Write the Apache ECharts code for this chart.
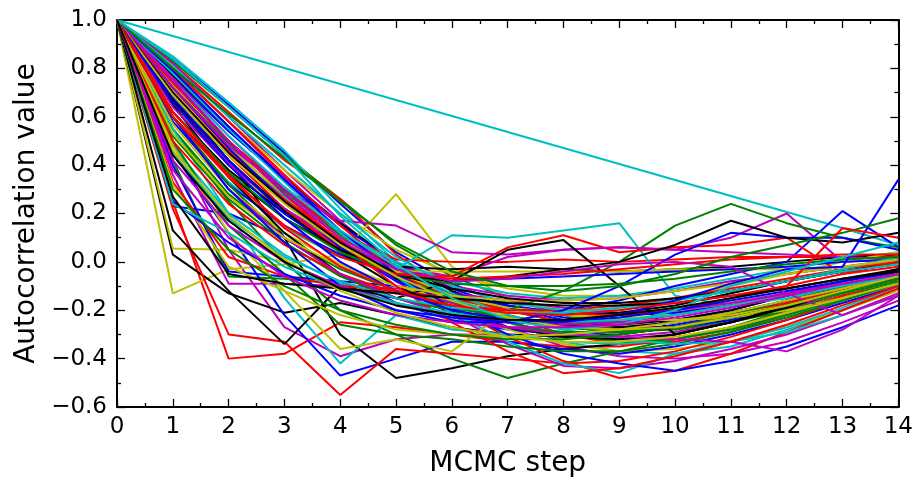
<!DOCTYPE html>
<html>
<head>
<meta charset="utf-8">
<script src="https://cdn.jsdelivr.net/npm/echarts@6/dist/echarts.min.js"></script>
<style>
  html, body { margin: 0; padding: 0; background: #fff; }
  #chart { width: 916px; height: 483px; }
</style>
</head>
<body>
<div id="chart"></div>
<script>
// Lag index of the autocorrelation function
const steps = [0, 1, 2, 3, 4, 5, 6, 7, 8, 9, 10, 11, 12, 13, 14];

// Autocorrelation curves of the MCMC chains, grouped by the line colour they are drawn with
const blueRuns = [
  [1, 0.84, 0.65, 0.45, 0.24, 0.04, -0.09, -0.18, -0.23, -0.25, -0.24, -0.2, -0.14, -0.08, -0.03],
  [1, 0.23, 0.2, 0.1, -0.05, -0.17, -0.24, -0.28, -0.3, -0.29, -0.26, -0.22, -0.17, -0.12, -0.07],
  [1, 0.76, 0.54, 0.34, 0.15, 0.0, -0.11, -0.19, -0.24, -0.27, -0.27, -0.24, -0.19, -0.13, -0.06],
  [1, 0.45, 0.12, -0.22, -0.47, -0.4, -0.33, -0.33, -0.36, -0.38, -0.35, -0.3, -0.24, -0.17, -0.1],
  [1, 0.4, -0.04, -0.06, -0.08, -0.1, -0.14, -0.18, -0.22, -0.24, -0.24, -0.22, -0.18, -0.13, -0.08],
  [1, 0.58, 0.32, 0.15, 0.03, -0.06, -0.13, -0.18, -0.21, -0.22, -0.21, -0.18, -0.14, -0.1, -0.06],
  [1, 0.72, 0.47, 0.25, 0.06, -0.08, -0.16, -0.2, -0.2, -0.16, -0.1, -0.05, 0.0, 0.21, 0.06],
  [1, 0.79, 0.56, 0.34, 0.13, -0.05, -0.19, -0.3, -0.38, -0.42, -0.45, -0.41, -0.35, -0.27, -0.18],
  [1, 0.68, 0.42, 0.2, 0.04, -0.06, -0.08, -0.07, -0.06, -0.05, -0.04, -0.03, -0.02, 0.0, 0.01],
  [1, 0.6, 0.3, 0.08, -0.1, -0.2, -0.25, -0.25, -0.2, -0.1, 0.03, 0.12, 0.1, 0.1, 0.05],
  [1, 0.25, 0.08, -0.05, -0.14, -0.2, -0.23, -0.25, -0.25, -0.23, -0.2, -0.16, -0.12, -0.08, -0.04],
  [1, 0.66, 0.4, 0.18, 0.0, -0.12, -0.2, -0.24, -0.25, -0.22, -0.16, -0.09, -0.03, -0.02, 0.34]
];
const greenRuns = [
  [1, 0.83, 0.64, 0.44, 0.26, 0.07, -0.06, -0.15, -0.22, -0.27, -0.28, -0.25, -0.2, -0.13, -0.06],
  [1, 0.42, -0.06, -0.07, -0.09, -0.12, -0.17, -0.23, -0.27, -0.29, -0.28, -0.24, -0.19, -0.13, -0.07],
  [1, 0.74, 0.5, 0.3, 0.12, -0.03, -0.14, -0.22, -0.27, -0.29, -0.27, -0.22, -0.16, -0.1, -0.04],
  [1, 0.55, 0.25, 0.0, -0.2, -0.3, -0.4, -0.48, -0.42, -0.37, -0.32, -0.27, -0.2, -0.13, -0.07],
  [1, 0.55, 0.28, 0.1, -0.03, -0.12, -0.19, -0.23, -0.25, -0.25, -0.22, -0.18, -0.13, -0.08, -0.04],
  [1, 0.72, 0.49, 0.29, 0.11, -0.04, -0.16, -0.25, -0.3, -0.33, -0.32, -0.28, -0.22, -0.15, -0.08],
  [1, 0.6, 0.32, 0.1, -0.05, -0.15, -0.2, -0.2, -0.12, 0.0, 0.15, 0.24, 0.16, 0.1, 0.06],
  [1, 0.5, 0.15, -0.05, -0.26, -0.3, -0.32, -0.35, -0.37, -0.37, -0.34, -0.29, -0.23, -0.16, -0.09],
  [1, 0.52, 0.26, 0.08, -0.06, -0.15, -0.22, -0.27, -0.29, -0.29, -0.27, -0.23, -0.18, -0.12, -0.07],
  [1, 0.62, 0.37, 0.18, 0.04, -0.05, -0.09, -0.1, -0.1, -0.09, -0.07, -0.04, -0.01, 0.01, 0.02],
  [1, 0.3, 0.05, -0.1, -0.2, -0.26, -0.3, -0.32, -0.32, -0.3, -0.27, -0.23, -0.18, -0.13, -0.08],
  [1, 0.8, 0.61, 0.43, 0.25, 0.08, -0.04, -0.1, -0.12, -0.1, -0.05, 0.02, 0.07, 0.12, 0.18]
];
const redRuns = [
  [1, 0.82, 0.62, 0.42, 0.26, 0.03, -0.12, -0.22, -0.3, -0.34, -0.33, -0.29, -0.22, -0.14, -0.06],
  [1, 0.25, -0.4, -0.38, -0.25, -0.27, -0.3, -0.33, -0.35, -0.35, -0.32, -0.27, -0.21, -0.14, -0.08],
  [1, 0.75, 0.5, 0.3, 0.12, 0.01, 0.0, 0.0, 0.01, 0.0, 0.01, 0.02, 0.02, 0.02, 0.02],
  [1, 0.8, 0.58, 0.36, 0.15, -0.04, -0.19, -0.31, -0.41, -0.48, -0.45, -0.38, -0.29, -0.2, -0.11],
  [1, 0.22, -0.3, -0.33, -0.55, -0.36, -0.38, -0.4, -0.42, -0.41, -0.37, -0.31, -0.24, -0.16, -0.09],
  [1, 0.7, 0.46, 0.26, 0.09, -0.05, -0.14, -0.2, -0.22, -0.22, -0.2, -0.15, -0.1, -0.05, 0.0],
  [1, 0.7, 0.44, 0.22, 0.05, -0.05, -0.06, 0.06, 0.11, 0.04, 0.06, 0.07, 0.1, -0.05, -0.02],
  [1, 0.33, 0.02, -0.06, -0.1, -0.12, -0.15, -0.2, -0.25, -0.28, -0.27, -0.23, -0.17, -0.11, -0.06],
  [1, 0.5, 0.24, 0.07, -0.05, -0.13, -0.18, -0.2, -0.2, -0.18, -0.15, -0.11, -0.07, -0.03, 0.0],
  [1, 0.74, 0.5, 0.28, 0.08, -0.1, -0.25, -0.37, -0.46, -0.44, -0.39, -0.33, -0.26, -0.18, -0.1],
  [1, 0.6, 0.35, 0.15, 0.02, -0.05, -0.07, -0.06, -0.05, -0.03, -0.01, 0.01, 0.02, 0.03, 0.03],
  [1, 0.62, 0.36, 0.14, -0.02, -0.12, -0.18, -0.21, -0.22, -0.2, -0.17, -0.14, -0.1, 0.14, 0.1]
];
const cyanRuns = [
  [1, null, null, null, null, null, null, null, null, null, null, null, null, 0.14, 0.07],
  [1, 0.85, 0.66, 0.46, 0.22, 0.0, -0.14, -0.25, -0.33, -0.37, -0.38, -0.35, -0.28, -0.2, -0.1],
  [1, 0.58, 0.33, 0.14, 0.02, -0.03, 0.11, 0.1, 0.13, 0.16, -0.14, -0.18, -0.15, -0.1, -0.05],
  [1, 0.68, 0.45, 0.27, 0.12, 0.0, -0.08, -0.13, -0.15, -0.14, -0.11, -0.07, -0.03, 0.01, 0.04],
  [1, 0.55, 0.2, -0.15, -0.42, -0.22, -0.28, -0.3, -0.33, -0.34, -0.32, -0.28, -0.22, -0.16, -0.09],
  [1, 0.48, 0.2, 0.03, -0.09, -0.17, -0.23, -0.27, -0.29, -0.29, -0.27, -0.23, -0.18, -0.13, -0.08],
  [1, 0.78, 0.55, 0.33, 0.12, -0.06, -0.21, -0.33, -0.42, -0.46, -0.38, -0.33, -0.27, -0.19, -0.1],
  [1, 0.75, 0.52, 0.31, 0.13, -0.02, -0.13, -0.22, -0.28, -0.32, -0.34, -0.33, -0.29, -0.22, -0.13],
  [1, 0.81, 0.6, 0.4, 0.2, 0.02, -0.1, -0.17, -0.2, -0.2, -0.16, -0.12, -0.08, -0.03, 0.02],
  [1, 0.45, 0.18, 0.02, -0.08, -0.15, -0.19, -0.21, -0.21, -0.19, -0.16, -0.12, -0.08, -0.04, -0.01],
  [1, 0.24, 0.12, -0.02, -0.11, -0.17, -0.21, -0.24, -0.25, -0.24, -0.22, -0.18, -0.14, -0.1, -0.06],
  [1, 0.84, 0.64, 0.44, 0.19, -0.01, -0.15, -0.24, -0.28, -0.26, -0.2, -0.1, -0.04, 0.02, 0.08]
];
const magentaRuns = [
  [1, 0.82, 0.6, 0.38, 0.17, -0.02, -0.16, -0.27, -0.35, -0.39, -0.4, -0.38, -0.33, -0.25, -0.16],
  [1, 0.5, 0.05, -0.27, -0.39, -0.32, -0.3, -0.3, -0.31, -0.3, -0.27, -0.22, -0.17, -0.12, -0.07],
  [1, 0.8, 0.58, 0.35, 0.12, -0.02, -0.06, 0.02, 0.05, 0.06, 0.05, 0.1, 0.2, 0.0, 0.01],
  [1, 0.66, 0.41, 0.22, 0.06, -0.07, -0.17, -0.25, -0.3, -0.31, -0.29, -0.25, -0.19, -0.13, -0.07],
  [1, 0.36, -0.09, -0.09, -0.1, -0.11, -0.13, -0.16, -0.19, -0.21, -0.2, -0.17, -0.13, -0.09, -0.05],
  [1, 0.76, 0.52, 0.3, 0.1, -0.08, -0.22, -0.34, -0.43, -0.44, -0.41, -0.36, -0.3, -0.22, -0.14],
  [1, 0.72, 0.48, 0.3, 0.17, 0.15, 0.04, 0.03, 0.05, 0.06, 0.05, 0.04, 0.03, 0.02, 0.01],
  [1, 0.64, 0.4, 0.22, 0.08, -0.03, -0.1, -0.14, -0.16, -0.15, -0.12, -0.08, -0.05, -0.02, 0.01],
  [1, 0.6, 0.3, 0.1, -0.05, -0.15, -0.22, -0.27, -0.3, -0.31, -0.32, -0.33, -0.37, -0.28, -0.14],
  [1, 0.42, 0.15, 0.0, -0.1, -0.17, -0.22, -0.25, -0.26, -0.25, -0.22, -0.18, -0.13, -0.08, -0.04],
  [1, 0.75, 0.5, 0.28, 0.1, -0.03, -0.08, -0.07, -0.04, -0.01, 0.0, -0.02, -0.13, -0.22, -0.13],
  [1, 0.38, 0.1, -0.06, -0.16, -0.22, -0.25, -0.27, -0.27, -0.26, -0.23, -0.19, -0.14, -0.09, -0.05]
];
const yellowRuns = [
  [1, 0.79, 0.58, 0.38, 0.2, 0.05, -0.05, -0.11, -0.14, -0.14, -0.12, -0.08, -0.05, -0.02, 0.0],
  [1, -0.13, -0.03, -0.01, 0.03, 0.28, -0.02, -0.15, -0.2, -0.22, -0.2, -0.17, -0.13, -0.09, -0.05],
  [1, 0.73, 0.48, 0.27, 0.08, -0.07, -0.19, -0.28, -0.34, -0.37, -0.36, -0.33, -0.27, -0.2, -0.12],
  [1, 0.055, 0.05, 0.0, -0.1, -0.18, -0.22, -0.24, -0.25, -0.24, -0.21, -0.17, -0.13, -0.09, -0.05],
  [1, 0.65, 0.4, 0.2, 0.05, -0.04, -0.04, -0.04, -0.04, -0.04, -0.03, -0.03, -0.03, -0.02, -0.01],
  [1, 0.71, 0.47, 0.28, 0.1, -0.04, -0.14, -0.19, -0.21, -0.19, -0.15, -0.1, -0.05, 0.0, 0.04],
  [1, 0.57, 0.3, 0.12, -0.01, -0.1, -0.16, -0.2, -0.22, -0.23, -0.24, -0.23, -0.2, -0.15, -0.09],
  [1, 0.48, 0.12, -0.12, -0.36, -0.32, -0.37, -0.2, -0.22, -0.24, -0.24, -0.22, -0.18, -0.13, -0.08],
  [1, 0.53, 0.27, 0.1, -0.02, -0.1, -0.14, -0.16, -0.16, -0.15, -0.12, -0.09, -0.05, -0.02, 0.01],
  [1, 0.32, -0.02, -0.12, -0.22, -0.28, -0.3, -0.31, -0.3, -0.28, -0.25, -0.21, -0.16, -0.11, -0.06],
  [1, 0.69, 0.44, 0.24, 0.07, -0.06, -0.16, -0.23, -0.27, -0.28, -0.27, -0.23, -0.18, -0.12, -0.06],
  [1, 0.46, 0.19, 0.01, -0.12, -0.21, -0.27, -0.31, -0.33, -0.33, -0.31, -0.27, -0.21, -0.15, -0.09]
];
const blackRuns = [
  [1, 0.77, 0.55, 0.35, 0.16, 0.0, -0.12, -0.2, -0.25, -0.26, -0.24, -0.2, -0.14, -0.08, -0.03],
  [1, 0.03, -0.13, -0.21, -0.17, -0.22, -0.27, -0.3, -0.31, -0.3, -0.27, -0.23, -0.18, -0.12, -0.07],
  [1, 0.7, 0.42, 0.1, -0.3, -0.48, -0.44, -0.39, -0.36, -0.34, -0.3, -0.25, -0.19, -0.13, -0.07],
  [1, 0.7, 0.45, 0.25, 0.08, -0.02, -0.03, -0.02, -0.03, -0.04, -0.03, -0.02, 0.0, 0.02, 0.03],
  [1, 0.62, 0.38, 0.2, 0.05, -0.07, -0.15, -0.2, -0.22, -0.21, -0.18, -0.13, -0.08, -0.04, 0.0],
  [1, 0.13, -0.12, -0.34, -0.1, -0.15, -0.2, -0.24, -0.26, -0.27, -0.25, -0.21, -0.16, -0.11, -0.06],
  [1, 0.65, 0.35, 0.12, -0.05, -0.15, -0.08, 0.05, 0.09, -0.1, -0.3, -0.25, -0.18, -0.12, -0.06],
  [1, 0.67, 0.42, 0.21, 0.04, -0.1, -0.2, -0.27, -0.31, -0.32, -0.3, -0.25, -0.19, -0.12, -0.06],
  [1, 0.6, 0.36, 0.18, 0.05, -0.05, -0.11, -0.15, -0.17, -0.17, -0.15, -0.12, -0.08, -0.04, -0.01],
  [1, 0.7, 0.45, 0.25, 0.08, -0.05, -0.08, -0.06, -0.03, 0.0, 0.07, 0.17, 0.1, 0.08, 0.12],
  [1, 0.27, -0.05, -0.09, -0.11, -0.13, -0.15, -0.17, -0.18, -0.18, -0.17, -0.14, -0.11, -0.07, -0.04],
  [1, 0.44, 0.17, 0.0, -0.11, -0.18, -0.22, -0.24, -0.24, -0.22, -0.19, -0.15, -0.11, -0.07, -0.03]
];

// Axis ticks
const xTicks = [0, 1, 2, 3, 4, 5, 6, 7, 8, 9, 10, 11, 12, 13, 14];
const yTickLabels = ['\u22120.6', '\u22120.4', '\u22120.2', '0.0', '0.2', '0.4', '0.6', '0.8', '1.0'];

// Classic colour cycle: b, g, r, c, m, y, k
const colourGroups = [
  { runs: blueRuns, color: '#0000ff' },
  { runs: greenRuns, color: '#008000' },
  { runs: redRuns, color: '#ff0000' },
  { runs: cyanRuns, color: '#00bfbf' },
  { runs: magentaRuns, color: '#bf00bf' },
  { runs: yellowRuns, color: '#bfbf00' },
  { runs: blackRuns, color: '#000000' }
];

const series = [];
const nRounds = Math.max(...colourGroups.map(g => g.runs.length));
for (let i = 0; i < nRounds; i++) {
  for (const g of colourGroups) {
    const run = g.runs[i];
    if (!run) continue;
    series.push({
      type: 'line',
      data: steps.map((s, k) => [s, run[k]]),
      showSymbol: false,
      symbol: 'none',
      connectNulls: true,
      silent: true,
      lineStyle: { color: g.color, width: 2 },
      emphasis: { disabled: true }
    });
  }
}

const FONT = 'DejaVu Sans';
const tickLine = { color: '#000', width: 1.3 };
function xAxisBase(pos) {
  return {
    type: 'value', position: pos, min: xTicks[0], max: xTicks[xTicks.length - 1], interval: 1,
    axisLine: { show: true, onZero: false, lineStyle: { color: '#000', width: 2 } },
    axisTick: { show: true, inside: true, length: 8, lineStyle: tickLine },
    minorTick: { show: true, splitNumber: 2, length: 4, lineStyle: tickLine },
    splitLine: { show: false }, minorSplitLine: { show: false }
  };
}
function yAxisBase(pos) {
  return {
    type: 'value', position: pos, min: -0.6, max: 1.0, interval: 0.2,
    axisLine: { show: true, onZero: false, lineStyle: { color: '#000', width: 2 } },
    axisTick: { show: true, inside: true, length: 8, lineStyle: tickLine },
    minorTick: { show: true, splitNumber: 2, length: 4, lineStyle: tickLine },
    splitLine: { show: false }, minorSplitLine: { show: false }
  };
}

const bottomX = Object.assign(xAxisBase('bottom'), {
  name: 'MCMC step', nameLocation: 'middle', nameGap: 43,
  nameTextStyle: { fontFamily: FONT, fontSize: 28, color: '#000' },
  axisLabel: { show: true, fontFamily: FONT, fontSize: 23, color: '#000', margin: 9,
    showMinLabel: true, showMaxLabel: true, formatter: v => String(v) }
});
const topX = Object.assign(xAxisBase('top'), { axisLabel: { show: false } });
const leftY = Object.assign(yAxisBase('left'), {
  name: 'Autocorrelation value', nameLocation: 'middle', nameGap: 74,
  nameTextStyle: { fontFamily: FONT, fontSize: 28, color: '#000' },
  axisLabel: { show: true, fontFamily: FONT, fontSize: 23, color: '#000', margin: 10,
    showMinLabel: true, showMaxLabel: true,
    formatter: v => yTickLabels[Math.round((v + 0.6) / 0.2)] }
});
const rightY = Object.assign(yAxisBase('right'), { axisLabel: { show: false } });

const chart = echarts.init(document.getElementById('chart'), null, { renderer: 'canvas' });
chart.setOption({
  backgroundColor: '#ffffff',
  animation: false,
  grid: { left: 117, right: 17, top: 20, bottom: 72, containLabel: false },
  xAxis: [bottomX, topX],
  yAxis: [leftY, rightY],
  series: series
});
</script>
</body>
</html>
